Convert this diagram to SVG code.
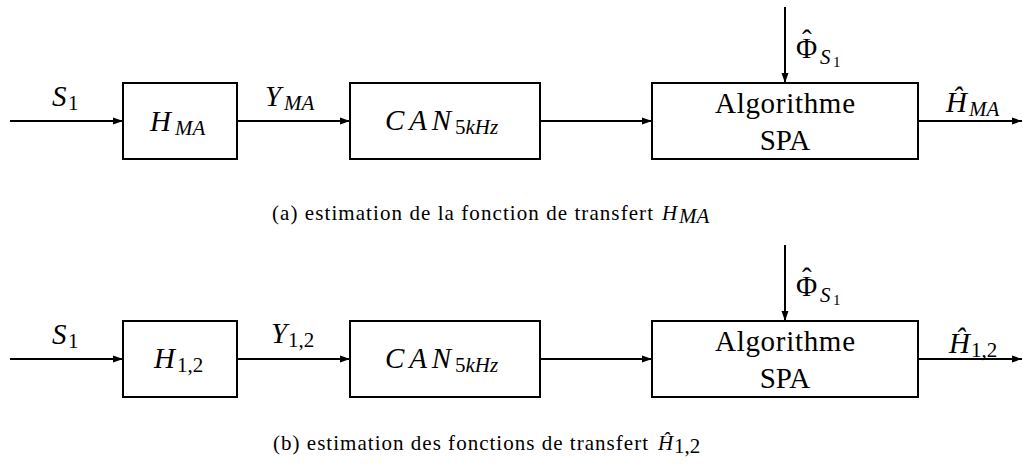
<svg xmlns="http://www.w3.org/2000/svg" width="1022" height="466" viewBox="0 0 1022 466">
<style>
.box{fill:#fff;stroke:#000;stroke-width:2}
.ln{fill:none;stroke:#000;stroke-width:2;marker-end:url(#ar)}
text{font-family:"Liberation Serif","DejaVu Serif","Times New Roman",serif;fill:#000}
.m{font-style:italic;font-size:29px}
.r{font-size:29px}
.s{font-size:21px}
.ss{font-size:15px}
.c{font-size:21px}
.cm{font-style:italic;font-size:21px}
</style>
<defs>
<marker id="ar" markerUnits="userSpaceOnUse" markerWidth="10" markerHeight="8" refX="10" refY="4" orient="auto">
<path d="M0,0.5 L10,4 L0,7.5 z" fill="#000"/>
</marker>
</defs>
<rect width="1022" height="466" fill="#fff"/>

<g id="connectors">
<line class="ln" x1="10" y1="121" x2="123" y2="121"/>
<line class="ln" x1="237" y1="121" x2="350" y2="121"/>
<line class="ln" x1="540" y1="121" x2="652" y2="121"/>
<line class="ln" x1="918" y1="121" x2="1022" y2="121"/>
<line class="ln" x1="785" y1="7" x2="785" y2="83"/>
<line class="ln" x1="10" y1="359" x2="123" y2="359"/>
<line class="ln" x1="237" y1="359" x2="350" y2="359"/>
<line class="ln" x1="540" y1="359" x2="652" y2="359"/>
<line class="ln" x1="918" y1="359" x2="1022" y2="359"/>
<line class="ln" x1="785" y1="245" x2="785" y2="321"/>
</g>

<g id="labels-a">
<text class="m" x="52" y="106">S</text><text class="r s" x="68" y="110">1</text>
<text class="m" x="265" y="106">Y</text><text class="m s" x="284" y="110">MA</text>
<text class="r" x="796" y="58">Φ<tspan x="802" y="50">ˆ</tspan></text><text class="m s" x="820" y="64">S</text><text class="r ss" x="833" y="67">1</text>
<text class="m" x="946" y="112">Ĥ</text><text class="m s" x="969" y="116">MA</text>
</g>

<g id="node-hma">
<rect class="box" x="123" y="83" width="114" height="76"/>
<text class="m" x="150" y="131">H</text><text class="m s" x="175" y="135">MA</text>
</g>
<g id="node-can-a">
<rect class="box" x="350" y="83" width="190" height="76"/>
<text class="m" x="385" y="130" textLength="66" lengthAdjust="spacing">CAN</text><text class="s" x="455" y="134">5<tspan font-style="italic">kHz</tspan></text>
</g>
<g id="node-spa-a">
<rect class="box" x="652" y="83" width="266" height="76"/>
<text class="r" x="785" y="113" text-anchor="middle" textLength="140" lengthAdjust="spacing">Algorithme</text>
<text class="r" x="785" y="150" text-anchor="middle">SPA</text>
</g>

<g id="caption-a">
<text class="c" x="272" y="219.5" textLength="381" lengthAdjust="spacing">(a) estimation de la fonction de transfert</text>
<text class="cm" x="662" y="219.5">H</text><text class="cm ss" x="679" y="223">MA</text>
</g>

<g id="labels-b">
<text class="m" x="52" y="344">S</text><text class="r s" x="68" y="348">1</text>
<text class="m" x="271" y="343">Y</text><text class="r s" x="288" y="347">1,2</text>
<text class="r" x="796" y="296">Φ<tspan x="802" y="288">ˆ</tspan></text><text class="m s" x="820" y="302">S</text><text class="r ss" x="833" y="305">1</text>
<text class="m" x="949" y="353">Ĥ</text><text class="r s" x="971" y="357">1,2</text>
</g>

<g id="node-h12">
<rect class="box" x="123" y="321" width="114" height="76"/>
<text class="m" x="154" y="368">H</text><text class="r s" x="177" y="372">1,2</text>
</g>
<g id="node-can-b">
<rect class="box" x="350" y="321" width="190" height="76"/>
<text class="m" x="385" y="368" textLength="66" lengthAdjust="spacing">CAN</text><text class="s" x="455" y="372">5<tspan font-style="italic">kHz</tspan></text>
</g>
<g id="node-spa-b">
<rect class="box" x="652" y="321" width="266" height="76"/>
<text class="r" x="785" y="351" text-anchor="middle" textLength="140" lengthAdjust="spacing">Algorithme</text>
<text class="r" x="785" y="388" text-anchor="middle">SPA</text>
</g>

<g id="caption-b">
<text class="c" x="273" y="449.5" textLength="375" lengthAdjust="spacing">(b) estimation des fonctions de transfert</text>
<text class="cm" x="658" y="449.5">Ĥ</text><text class="c ss" x="674" y="453">1,2</text>
</g>
</svg>
